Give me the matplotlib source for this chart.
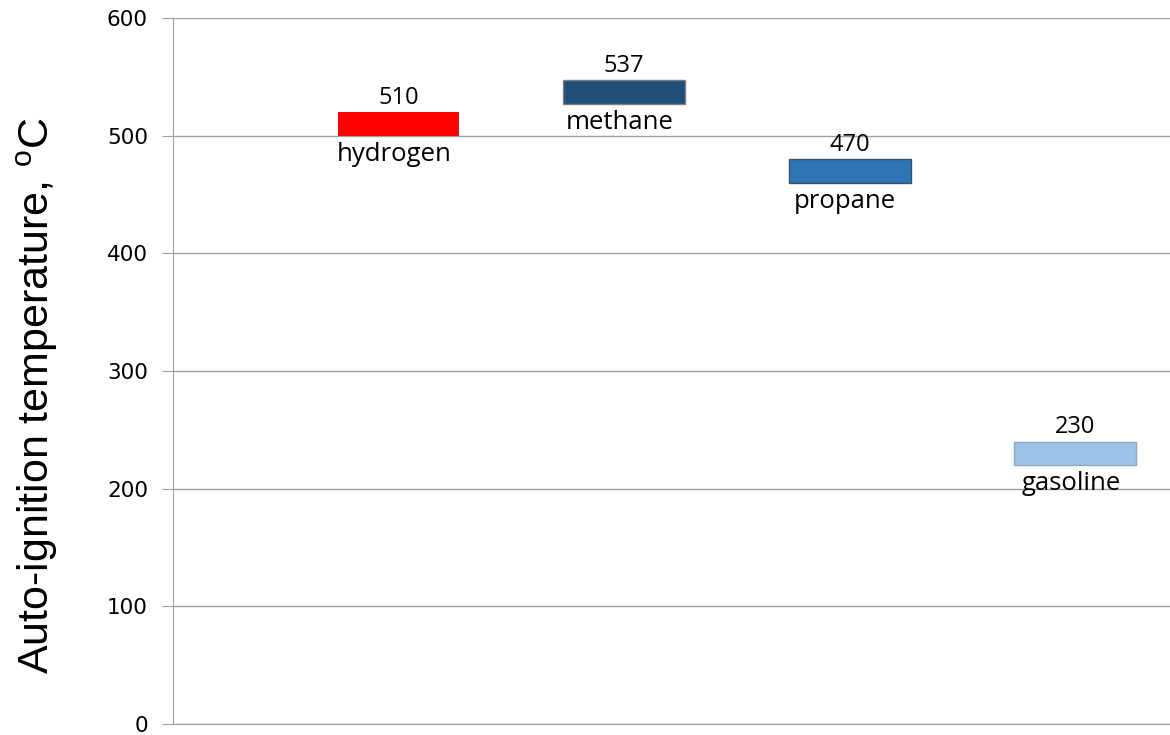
import numpy as np
import matplotlib
matplotlib.use("Agg")
import matplotlib.pyplot as plt

# auto-ignition temperatures, degC
fuels = ["hydrogen", "methane", "propane", "gasoline"]
temps = [510, 537, 470, 230]
colors = ["#FF0000", "#1F4E79", "#2E75B6", "#9DC3E6"]
edges = ["none", "#7F7F7F", "#3A4F66", "#8FA9C2"]
yticks = [0, 100, 200, 300, 400, 500, 600]

half_span = 10   # box covers value +/- 10
box_w = 0.54

plt.rcParams["mathtext.fontset"] = "custom"
plt.rcParams["mathtext.rm"] = "Liberation Sans"

fig = plt.figure(figsize=(11.7, 7.35), dpi=100)
ax = fig.add_axes([173 / 1170, 1 - 724 / 735, 1 - 173 / 1170, (724 - 18) / 735])

x = np.arange(1, len(fuels) + 1)
for xi, t, c, e, name in zip(x, temps, colors, edges, fuels):
    ax.bar(xi, 2 * half_span, bottom=t - half_span, width=box_w,
           color=c, edgecolor=e, linewidth=1, zorder=3)
    ax.text(xi, t + half_span + 2, str(t), ha="center", va="bottom",
            fontsize=17, family="Open Sans", color="#000000")
    ax.text(xi - 0.02, t - half_span - 5, name, ha="center", va="top",
            fontsize=18.5, family="Open Sans", color="#000000")

ax.set_xlim(0, 4.42)
ax.set_ylim(0, 600)
ax.set_yticks(yticks)
ax.set_xticks([])
ax.yaxis.grid(True, color="#A0A0A0", linewidth=1)
ax.set_axisbelow(True)

for s in ["top", "right"]:
    ax.spines[s].set_visible(False)
for s in ["left", "bottom"]:
    ax.spines[s].set_color("#A0A0A0")
ax.tick_params(axis="y", length=8, color="#A0A0A0", labelsize=15.5, pad=10)
for lbl in ax.get_yticklabels():
    lbl.set_family("DejaVu Sans")

ax.set_ylabel(r"Auto-ignition temperature, $^{\rm o}$C", fontsize=31,
              family="Liberation Sans")
ax.yaxis.set_label_coords(-0.113, 0.465)

fig.savefig("out.png", dpi=100)
